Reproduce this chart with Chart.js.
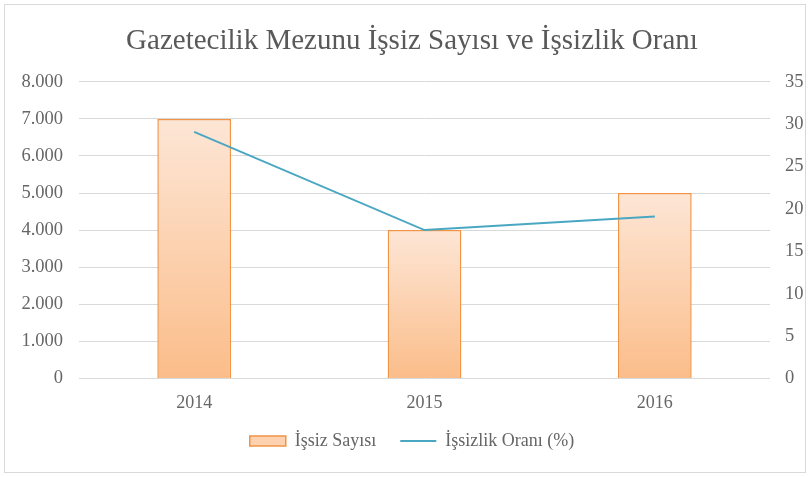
<!DOCTYPE html>
<html><head><meta charset="utf-8">
<script src="https://cdn.jsdelivr.net/npm/chart.js@4.4.0/dist/chart.umd.min.js"></script>
<style>
html,body{margin:0;padding:0;background:#fff;}
#wrap{position:absolute;left:4px;top:4px;width:802px;height:469px;border:1px solid #d9d9d9;box-sizing:border-box;}
canvas{position:absolute;left:0;top:0;}
</style></head>
<body>
<div id="wrap"></div>
<canvas id="c" width="810" height="477"></canvas>
<script>
const categories = ["2014", "2015", "2016"];
const unemployedCount = [7000, 4000, 5000];
const unemploymentRate = [29.1, 17.5, 19.1];
const leftTicks = [0, 1000, 2000, 3000, 4000, 5000, 6000, 7000, 8000];
const rightTicks = [0, 5, 10, 15, 20, 25, 30, 35];
const titleText = "Gazetecilik Mezunu İşsiz Sayısı ve İşsizlik Oranı";
const seriesNames = ["İşsiz Sayısı", "İşsizlik Oranı (%)"];

const FONT = "'Liberation Serif', 'DejaVu Serif', serif";
const GRAY = '#666666';

function barGradient(context) {
  const chart = context.chart;
  const area = chart.chartArea;
  if (!area || context.type !== 'data') return '#fcd2b0';
  const y = chart.scales.y;
  const v = context.raw;
  const top = y.getPixelForValue(v);
  const bot = y.getPixelForValue(0);
  const g = chart.ctx.createLinearGradient(0, top, 0, bot);
  g.addColorStop(0, '#fde6d6');
  g.addColorStop(1, '#fbbd8a');
  return g;
}

new Chart(document.getElementById('c'), {
  data: {
    labels: categories,
    datasets: [
      {
        type: 'bar', label: seriesNames[0], data: unemployedCount, yAxisID: 'y',
        backgroundColor: barGradient, borderColor: '#f29445', borderWidth: 1.5,
        categoryPercentage: 1, barPercentage: 0.32, order: 2
      },
      {
        type: 'line', label: seriesNames[1], data: unemploymentRate, yAxisID: 'y1',
        borderColor: '#4aa7c2', backgroundColor: '#4aa7c2', borderWidth: 2,
        pointRadius: 0, tension: 0, order: 1
      }
    ]
  },
  options: {
    responsive: false, animation: false,
    layout: { padding: { left: 14, right: 0, top: 24, bottom: 17 } },
    plugins: {
      title: {
        display: true, text: titleText, color: '#595959',
        font: { family: FONT, size: 29, weight: 'normal' },
        padding: { top: 0, bottom: 23 }
      },
      legend: {
        position: 'bottom',
        labels: {
          color: GRAY, font: { family: FONT, size: 18 },
          usePointStyle: true, pointStyleWidth: 36, boxHeight: 10, padding: 24,
          generateLabels: (chart) => chart.data.datasets.map((ds, i) => ({
            text: ds.label, datasetIndex: i,
            fillStyle: i === 0 ? '#fcd2b0' : '#4aa7c2',
            strokeStyle: i === 0 ? '#f29445' : '#4aa7c2',
            lineWidth: i === 0 ? 1.5 : 2,
            pointStyle: i === 0 ? 'rect' : 'line',
            fontColor: GRAY, hidden: false
          }))
        }
      },
      tooltip: { enabled: false }
    },
    scales: {
      x: {
        afterFit: (s) => { s.height = s.height - 12; },
        grid: { display: false }, border: { display: false },
        ticks: { color: GRAY, font: { family: FONT, size: 18 }, padding: 6 }
      },
      y: {
        position: 'left', min: 0, max: 8000,
        afterBuildTicks: (s) => { s.ticks = leftTicks.map(v => ({ value: v })); },
        afterFit: (s) => { s.width = 65; },
        grid: { color: '#d9d9d9', lineWidth: 1, drawTicks: false },
        border: { display: false },
        ticks: {
          color: GRAY, font: { family: FONT, size: 18.5 }, padding: 16,
          callback: (v) => v === 0 ? '0' : String(v).replace(/\B(?=(\d{3})+(?!\d))/g, '.')
        }
      },
      y1: {
        position: 'right', min: 0, max: 35,
        afterBuildTicks: (s) => { s.ticks = rightTicks.map(v => ({ value: v })); },
        afterFit: (s) => { s.width = 40; },
        grid: { display: false, drawTicks: false }, border: { display: false },
        ticks: { color: GRAY, font: { family: FONT, size: 18.5 }, padding: 15 }
      }
    }
  }
});
</script>
</body></html>
